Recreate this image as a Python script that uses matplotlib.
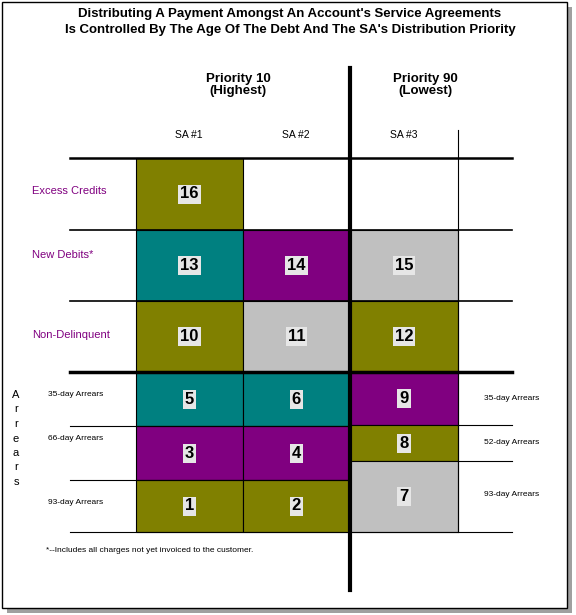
import matplotlib
matplotlib.use("Agg")
import matplotlib.pyplot as plt
from matplotlib.patches import Rectangle

W, H = 576, 615
OLIVE, TEAL, PURPLE, SILVER = "#808000", "#008080", "#800080", "#C0C0C0"

# cells: (number, x0, x1, y0, y1, colour)
cell_nums = [16, 13, 14, 15, 10, 11, 12, 5, 6, 9, 3, 4, 8, 1, 2, 7]
cell_x0 = [136, 136, 243, 350, 136, 243, 350, 136, 243, 350, 136, 243, 350, 136, 243, 350]
cell_x1 = [243, 243, 350, 458, 243, 350, 458, 243, 350, 458, 243, 350, 458, 243, 350, 458]
cell_y0 = [158, 230, 230, 230, 301, 301, 301, 372, 372, 372, 426, 426, 425, 480, 480, 461]
cell_y1 = [230, 301, 301, 301, 372, 372, 372, 426, 426, 425, 480, 480, 461, 532, 532, 532]
cell_col = [OLIVE, TEAL, PURPLE, SILVER, OLIVE, SILVER, OLIVE, TEAL, TEAL, PURPLE,
            PURPLE, PURPLE, OLIVE, OLIVE, OLIVE, SILVER]

row_labels = ["Excess Credits", "New Debits*", "Non-Delinquent"]
row_label_y = [191, 255, 335]
left_arrears = ["35-day Arrears", "66-day Arrears", "93-day Arrears"]
left_arrears_y = [396, 441, 505]
right_arrears = ["35-day Arrears", "52-day Arrears", "93-day Arrears"]
right_arrears_y = [398, 443, 495]
sa_labels = ["SA #1", "SA #2", "SA #3"]
sa_x = [189, 296, 404]

fig = plt.figure(figsize=(W / 100, H / 100), dpi=100)
ax = fig.add_axes([0, 0, 1, 1])
ax.set_xlim(0, W)
ax.set_ylim(H, 0)
ax.axis("off")

# frame with shadow
ax.add_patch(Rectangle((7, 7), 565, 606, facecolor="#A0A0A0", edgecolor="none"))
ax.add_patch(Rectangle((2, 2), 565, 606, facecolor="white", edgecolor="black", lw=1))

for n, x0, x1, y0, y1, c in zip(cell_nums, cell_x0, cell_x1, cell_y0, cell_y1, cell_col):
    ax.add_patch(Rectangle((x0, y0), x1 - x0, y1 - y0, facecolor=c, edgecolor="black", lw=0.8))
    ax.text((x0 + x1) / 2, (y0 + y1) / 2, str(n), ha="center", va="center",
            fontsize=12, fontweight="bold", family="Liberation Sans",
            bbox=dict(facecolor="#E6E6E6", edgecolor="none", pad=1.5))

# horizontal lines
ax.plot([70, 512], [158, 158], color="black", lw=1.8)
ax.plot([70, 512], [230, 230], color="black", lw=1.2)
ax.plot([70, 512], [301, 301], color="black", lw=1.2)
ax.plot([70, 512], [372, 372], color="black", lw=2.5)
ax.plot([70, 350], [426, 426], color="black", lw=0.8)
ax.plot([70, 350], [480, 480], color="black", lw=0.8)
ax.plot([458, 512], [425, 425], color="black", lw=0.8)
ax.plot([458, 512], [461, 461], color="black", lw=0.8)
ax.plot([70, 512], [532, 532], color="black", lw=0.8)
ax.plot([458, 458], [130, 532], color="black", lw=0.8)
ax.plot([350, 350], [68, 590], color="black", lw=3)

tf = dict(family="Liberation Sans")
ax.text(290, 14, "Distributing A Payment Amongst An Account's Service Agreements", ha="center",
        va="center", fontsize=9.5, fontweight="bold", **tf)
ax.text(290, 30, "Is Controlled By The Age Of The Debt And The SA's Distribution Priority",
        ha="center", va="center", fontsize=9.5, fontweight="bold", **tf)
ax.text(238, 85, "Priority 10\n(Highest)", ha="center", va="center", fontsize=9.5,
        fontweight="bold", linespacing=1.1, **tf)
ax.text(425, 85, "Priority 90\n(Lowest)", ha="center", va="center", fontsize=9.5,
        fontweight="bold", linespacing=1.1, **tf)
for s, x in zip(sa_labels, sa_x):
    ax.text(x, 135, s, ha="center", va="center", fontsize=7.5, **tf)
for s, y in zip(row_labels, row_label_y):
    ax.text(32, y, s, ha="left", va="center", fontsize=8, color="#800080", **tf)
for s, y in zip(left_arrears, left_arrears_y):
    ax.text(48, y - 2, s, ha="left", va="center", fontsize=6, **tf)
for s, y in zip(right_arrears, right_arrears_y):
    ax.text(512, y, s, ha="center", va="center", fontsize=6, **tf)
for i, ch in enumerate("Arrears"):
    ax.text(16, 395 + i * 14.5, ch, ha="center", va="center", fontsize=8, **tf)
ax.text(46, 550, "*--Includes all charges not yet invoiced to the customer.", ha="left",
        va="center", fontsize=6, **tf)

fig.savefig("out.png", dpi=100)
